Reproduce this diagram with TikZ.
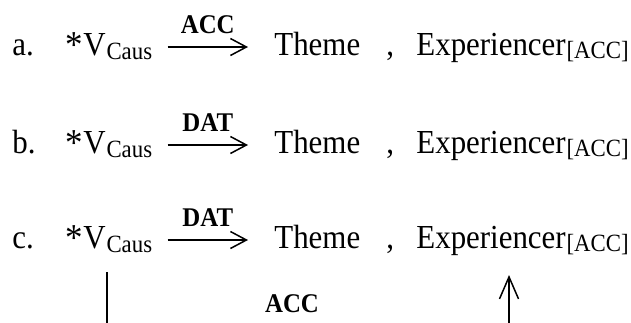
\documentclass[tikz,border=0pt]{standalone}
\usepackage{fontspec}
\setmainfont{Liberation Serif}[FakeStretch=0.92]
\usepackage{tikz}
\usetikzlibrary{arrows.meta, calc}

\begin{document}
\begin{tikzpicture}[
    x=0.5pt, y=-0.5pt,
    txt/.style={anchor=base west, inner sep=0pt,
                font=\fontsize{16.8}{19}\selectfont},
    ast/.style={anchor=base west, inner sep=0pt,
                font=\fontsize{19}{21}\selectfont},
    sub/.style={anchor=base west, inner sep=0pt,
                font=\fontsize{12.4}{15}\selectfont},
    cas/.style={anchor=base, inner sep=0pt,
                font=\fontsize{13.5}{16}\selectfont\bfseries},
    arr/.style={-{Straight Barb[length=8pt, width=8.5pt]},
                line width=0.75pt},
    uparr/.style={-{Straight Barb[length=11pt, width=9.5pt]},
                  line width=0.75pt},
]

% Page frame
\useasboundingbox (0,0) rectangle (631,322);
\clip (0,0) rectangle (631,322);

% --- Row a ---
\node[txt] (exa)    at (12,55)  {a.};
\node[ast] (stara)  at (65,57)  {*};
\node[txt] (va)     at (83,55)  {V};
\node[sub, yshift=-2pt] (causa) at (va.base east) {Caus};
\node[txt] (themea) at (274,55) {Theme};
\node[txt] (commaa) at (386,55) {,};
\node[txt] (expa)   at (416,55) {Experiencer};
\node[sub, yshift=-1.5pt] (acca) at (expa.base east) {[ACC]};

\draw[arr] ($(causa.east |- themea.base)+(15,-8)$)
  -- node[cas, yshift=7pt] {ACC}
  ($(themea.base west)+(-26,-8)$);

% --- Row b ---
\node[txt] (exb)    at (12,153)  {b.};
\node[ast] (starb)  at (65,155)  {*};
\node[txt] (vb)     at (83,153)  {V};
\node[sub, yshift=-2pt] (causb) at (vb.base east) {Caus};
\node[txt] (themeb) at (274,153) {Theme};
\node[txt] (commab) at (386,153) {,};
\node[txt] (expb)   at (416,153) {Experiencer};
\node[sub, yshift=-1.5pt] (accb) at (expb.base east) {[ACC]};

\draw[arr] ($(causb.east |- themeb.base)+(15,-8)$)
  -- node[cas, yshift=7pt] {DAT}
  ($(themeb.base west)+(-26,-8)$);

% --- Row c ---
\node[txt] (exc)    at (12,248)  {c.};
\node[ast] (starc)  at (65,250)  {*};
\node[txt] (vc)     at (83,248)  {V};
\node[sub, yshift=-2pt] (causc) at (vc.base east) {Caus};
\node[txt] (themec) at (274,248) {Theme};
\node[txt] (commac) at (386,248) {,};
\node[txt] (expc)   at (416,248) {Experiencer};
\node[sub, yshift=-1.5pt] (accc) at (expc.base east) {[ACC]};

\draw[arr] ($(causc.east |- themec.base)+(15,-8)$)
  -- node[cas, yshift=7pt] {DAT}
  ($(themec.base west)+(-26,-8)$);

% Case passed from V down and up to the experiencer
\coordinate (vfoot) at (107,272);
\coordinate (expfoot) at (509,275);
\draw[uparr] (vfoot) -- ++(0,80) -| (expfoot);
\node[cas] (accbot) at (292,312) {ACC};

\end{tikzpicture}
\end{document}
